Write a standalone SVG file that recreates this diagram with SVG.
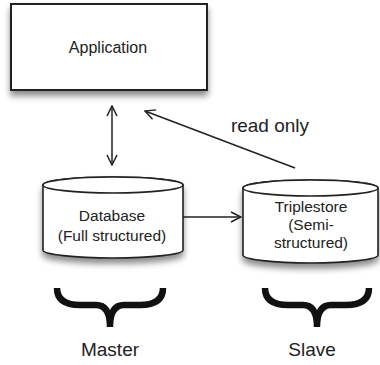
<svg xmlns="http://www.w3.org/2000/svg" width="380" height="365" viewBox="0 0 380 365">
  <defs>
    <filter id="shadow" x="-10%" y="-10%" width="120%" height="140%">
      <feDropShadow dx="0" dy="5" stdDeviation="3" flood-color="#000" flood-opacity="0.45"/>
    </filter>
    <marker id="open-head" viewBox="0 0 12 12" refX="11" refY="6" markerWidth="12" markerHeight="12" markerUnits="userSpaceOnUse" orient="auto-start-reverse">
      <path d="M1,1 L11,6 L1,11" fill="none" stroke="#222" stroke-width="1.5"/>
    </marker>
  </defs>
  <style>
    .shape { fill: #fff; stroke: #222; stroke-width: 1.6; }
    .box { fill: #fff; stroke: #222; stroke-width: 2; }
    .label { font-family: "Liberation Sans", Arial, sans-serif; fill: #222; text-anchor: middle; }
    .node-text { font-size: 15.5px; }
    .edge { fill: none; stroke: #222; stroke-width: 1.5; }
    .brace { fill: none; stroke: #111; stroke-width: 6.5; stroke-linecap: butt; stroke-linejoin: miter; }
  </style>
  <rect width="380" height="365" fill="#fff"/>

  <g id="application">
    <rect class="box" x="11" y="4" width="196" height="86" filter="url(#shadow)"/>
    <text class="label" x="108" y="53" font-size="16">Application</text>
  </g>

  <g id="database">
    <g filter="url(#shadow)">
      <path class="shape" d="M43,185 L43,250 A70,8 0 0 0 183,250 L183,185 A70,8 0 0 0 43,185 Z"/>
    </g>
    <ellipse class="shape" cx="113" cy="185" rx="70" ry="8"/>
    <text class="label node-text" x="112" y="221">Database</text>
    <text class="label node-text" x="112" y="241">(Full structured)</text>
  </g>

  <g id="triplestore">
    <g filter="url(#shadow)">
      <path class="shape" d="M243,188 L243,255 A67.5,8 0 0 0 378,255 L378,188 A67.5,8 0 0 0 243,188 Z"/>
    </g>
    <ellipse class="shape" cx="310.5" cy="188" rx="67.5" ry="8"/>
    <text class="label node-text" x="311" y="212">Triplestore</text>
    <text class="label node-text" x="311" y="230">(Semi-</text>
    <text class="label node-text" x="311" y="248">structured)</text>
  </g>

  <g id="master">
    <path class="brace" d="M57,288 Q57,305 80,305 L96,305 Q110,305 110,327 M163,288 Q163,305 140,305 L124,305 Q110,305 110,327"/>
    <text class="label" x="110" y="356" font-size="19">Master</text>
  </g>

  <g id="slave">
    <path class="brace" d="M265,288 Q265,305 288,305 L303,305 Q317,305 317,327 M369,288 Q369,305 346,305 L331,305 Q317,305 317,327"/>
    <text class="label" x="312" y="356" font-size="19">Slave</text>
  </g>

  <g id="connectors">
    <line class="edge" x1="112" y1="106" x2="112" y2="165" marker-start="url(#open-head)" marker-end="url(#open-head)"/>
    <line class="edge" x1="183" y1="217" x2="241" y2="217" marker-end="url(#open-head)"/>
    <line class="edge" x1="295" y1="168" x2="145" y2="111" marker-end="url(#open-head)"/>
    <text class="label" x="270" y="132" font-size="19">read only</text>
  </g>
</svg>
